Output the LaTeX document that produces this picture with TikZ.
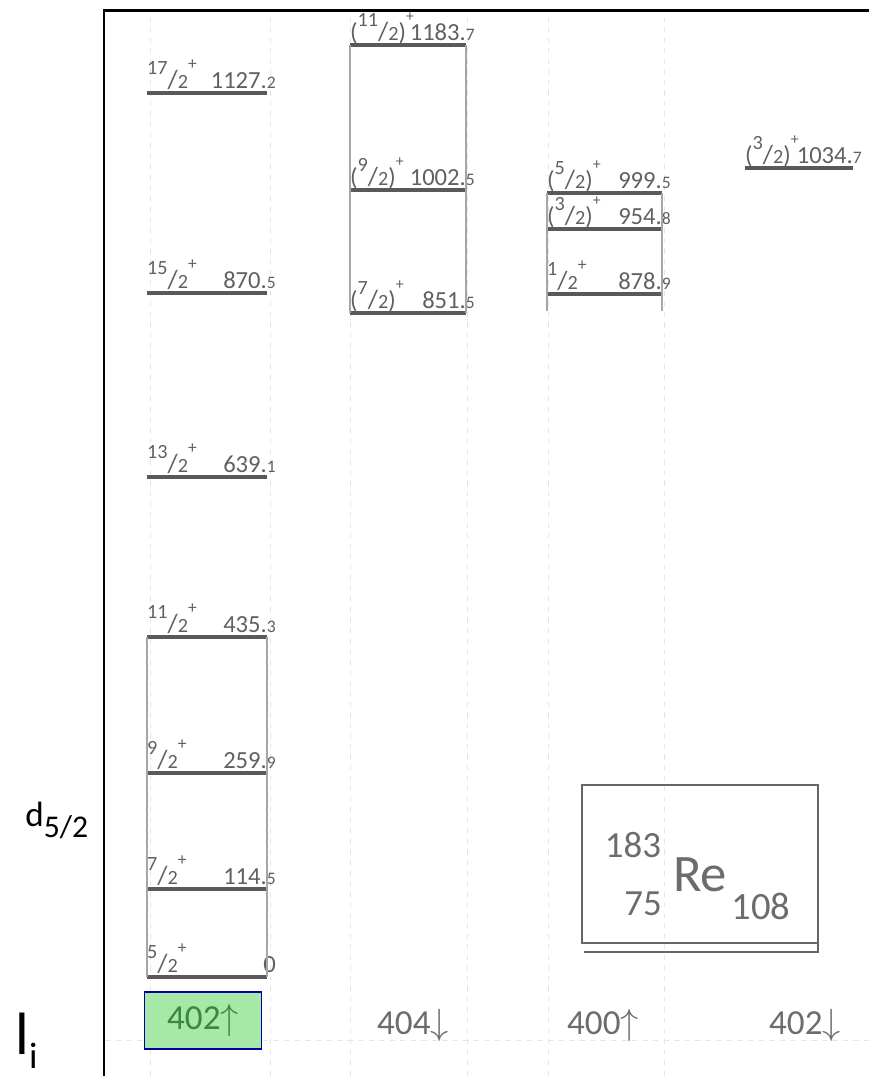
\documentclass[tikz,border=0pt]{standalone}
\usepackage{fontspec}
\setmainfont{Carlito}
\usepackage{tikz}
\usetikzlibrary{positioning}

\definecolor{bandgreen}{RGB}{166,232,166}
\definecolor{inkgreen}{RGB}{60,135,60}

% spin/parity labels and energies
\newcommand{\frc}[1]{{\fontsize{11.5}{12}\selectfont\raisebox{8pt}{#1}}{\fontsize{15}{15}\selectfont/}{\fontsize{11.5}{12}\selectfont 2}}
\newcommand{\jp}[1]{\frc{#1}\raisebox{11pt}{\fontsize{10}{10}\selectfont+}}
\newcommand{\jpb}[1]{{\fontsize{14}{14}\selectfont(}\frc{#1}{\fontsize{14}{14}\selectfont)}\raisebox{11pt}{\fontsize{9}{9}\selectfont+}}
\newcommand{\kev}[2]{#1.{\fontsize{10}{10}\selectfont #2}}

\begin{document}
\begin{tikzpicture}[
  x=0.02cm, y=0.02cm,
  level/.style={line width=2.4pt, gray!70!black},
  side/.style={line width=0.8pt, gray!70},
  guide/.style={line width=0.4pt, gray!20, dashed},
  hand/.style={font=\fontsize{14}{14}\selectfont, text=gray!75!black, inner sep=0.5pt},
  slab/.style={hand, anchor=base west, yshift=0.08cm, xshift=-0.02cm},
  elab/.style={hand, anchor=base east, yshift=0.08cm, xshift=0.2cm},
  orbit/.style={font=\fontsize{20}{20}\selectfont, text=gray!85!black},
]
\useasboundingbox (0,0) rectangle (869,1076);

% Guide lines
\foreach \x in {150,270,350,467,548,664} {
  \draw[guide] (\x,0) -- (\x,1065);
}
\coordinate (baseL) at (105,36);
\coordinate (baseR) at (869,36);
\draw[guide] (baseL) -- (baseR);

% Frame
\draw[line width=1.7pt] (104,0) -- (104,1065) -- (869,1065);

% 402 up band
\foreach \n/\y/\ener in {5/99/0, 7/187/\kev{114}{5}, 9/303/\kev{259}{9}, 11/439/\kev{435}{3}, 13/599/\kev{639}{1}, 15/783/\kev{870}{5}, 17/983/\kev{1127}{2}} {
  \coordinate (a\n l) at (147,\y);
  \coordinate (a\n r) at (267,\y);
  \draw[level] (a\n l) -- (a\n r);
  \node[slab] (a\n s) at (a\n l) {\jp{\n}};
  \node[elab] (a\n e) at (a\n r) {\ener};
}
\draw[side] (a5l) -- (a11l);
\draw[side] (a5r) -- (a11r);

% 404 down band
\foreach \n/\y/\ener in {7/763/\kev{851}{5}, 9/886/\kev{1002}{5}, 11/1031/\kev{1183}{7}} {
  \coordinate (b\n l) at (350,\y);
  \coordinate (b\n r) at (466,\y);
  \draw[level] (b\n l) -- (b\n r);
  \node[slab] (b\n s) at (b\n l) {\jpb{\n}};
  \node[elab] (b\n e) at (b\n r) {\ener};
}
\draw[side] (b7l) -- (b11l);
\draw[side] (b7r) -- (b11r);

% 400 up band
\coordinate (c1l) at (547,782);
\coordinate (c1r) at (662,782);
\draw[level] (c1l) -- (c1r);
\node[slab] (c1s) at (c1l) {\jp{1}};
\node[elab] (c1e) at (c1r) {\kev{878}{9}};
\foreach \n/\y/\ener in {3/847/\kev{954}{8}, 5/883/\kev{999}{5}} {
  \coordinate (c\n l) at (547,\y);
  \coordinate (c\n r) at (662,\y);
  \draw[level] (c\n l) -- (c\n r);
  \node[slab] (c\n s) at (c\n l) {\jpb{\n}};
  \node[elab] (c\n e) at (c\n r) {\ener};
}
\coordinate (c0l) at (547,765);
\coordinate (c0r) at (662,765);
\draw[side] (c0l) -- (c5l);
\draw[side] (c0r) -- (c5r);

% 402 down band
\coordinate (d3l) at (745,908);
\coordinate (d3r) at (853,908);
\draw[level] (d3l) -- (d3r);
\node[slab] (d3s) at (d3l) {\jpb{3}};
\node[elab] (d3e) at (d3r) {\kev{1034}{7}};

% Nucleus box
\draw[gray!80!black, line width=1pt] (582,133) rectangle (818,291);
\draw[gray!80!black, line width=0.8pt] (584,124) -- (818,124) -- (818,133);
\node[font=\fontsize{30}{30}\selectfont, text=gray!85!black] (reSym) at (700,201) {Re};
\node[font=\fontsize{21}{21}\selectfont, text=gray!85!black] (reA) at (633,231) {183};
\node[font=\fontsize{21}{21}\selectfont, text=gray!85!black] (reZ) at (643,172) {75};
\node[font=\fontsize{22}{22}\selectfont, text=gray!85!black] (reN) at (761,170) {108};

% Asymptotic labels
\node[orbit, draw=blue!65!black, line width=1pt, fill=bandgreen, text=inkgreen,
  minimum width=2.34cm, minimum height=1.14cm] (o402u) at (203,55.5) {402$\uparrow$};
\node[orbit] (o404d) at (413,51) {404$\downarrow$};
\node[orbit] (o400u) at (603,51) {400$\uparrow$};
\node[orbit] (o402d) at (805,51) {402$\downarrow$};

% Row labels
\node[anchor=base west, inner sep=0pt, font=\fontsize{20}{20}\selectfont] (dlab) at (25,249)
  {d\raisebox{-6pt}{\fontsize{18}{18}\selectfont 5/2}};
\node[anchor=base west, inner sep=0pt, font=\fontsize{34}{34}\selectfont] (llab) at (15,21)
  {l\raisebox{-7.5pt}{\fontsize{21}{21}\selectfont i}};
\end{tikzpicture}
\end{document}
